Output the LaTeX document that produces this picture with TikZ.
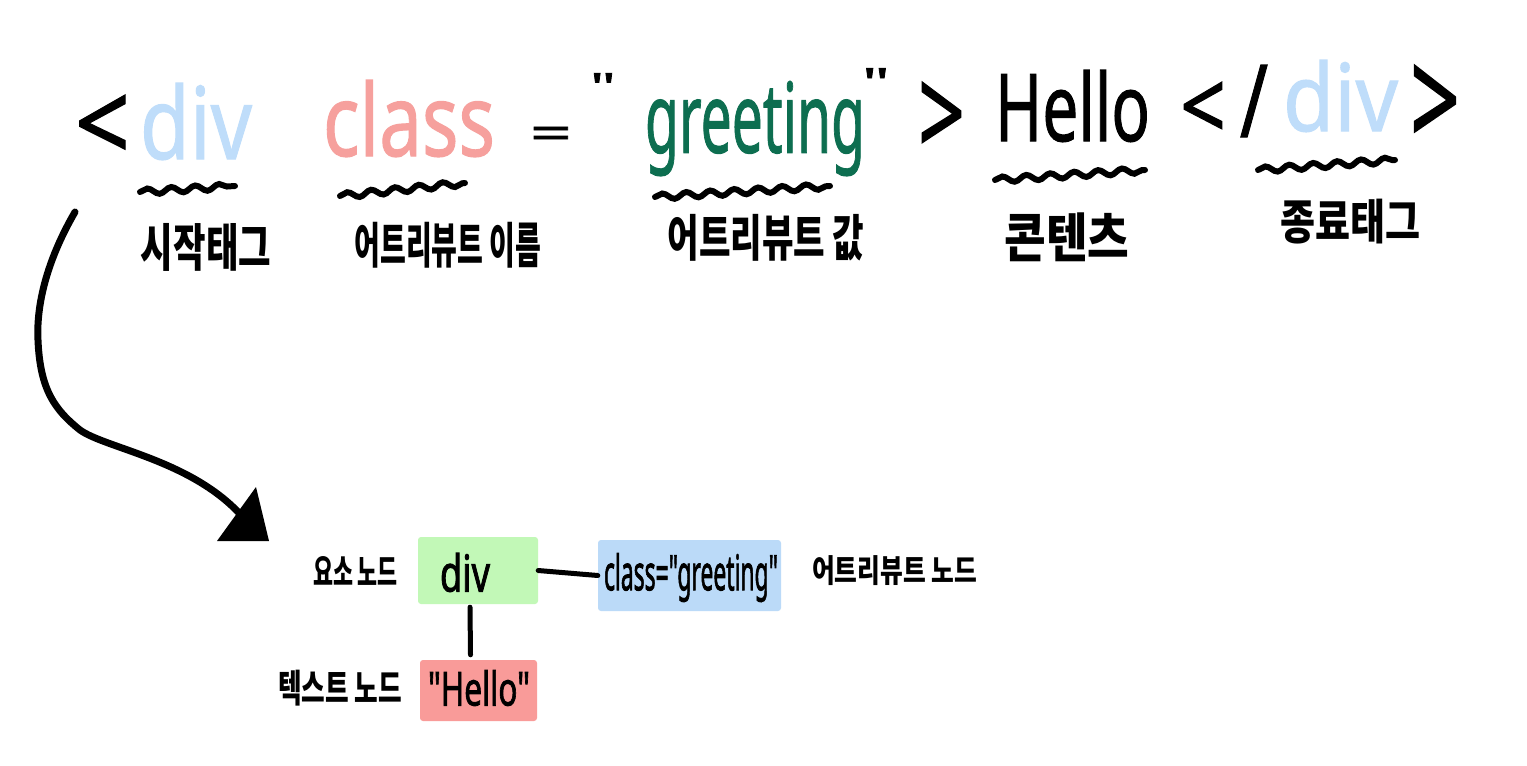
\documentclass[tikz,border=0pt]{standalone}
\usepackage{graphicx}
\usepackage{fontspec}
\setmainfont{Noto Sans}
\newfontfamily\codefont{Noto Sans}[FakeBold=2]
\newfontfamily\bigfont{Noto Sans}[FakeBold=1.2]
\newfontfamily\kr{Noto Sans CJK KR}
\usetikzlibrary{decorations.pathmorphing}
\newcommand{\fitbox}[3]{\resizebox*{#1pt}{#2pt}{#3}}
\definecolor{tagblue}{HTML}{BFDDFA}
\definecolor{attsalmon}{HTML}{F6A09D}
\definecolor{valgreen}{HTML}{0D6E50}
\definecolor{boxgreen}{HTML}{C2F8B7}
\definecolor{boxblue}{HTML}{BBDAF8}
\definecolor{boxred}{HTML}{F99B99}
\tikzset{
  big/.style={inner sep=0pt, font=\bigfont\fontsize{90}{90}\selectfont},
  lab/.style={inner sep=0pt, font=\kr\bfseries\fontsize{34}{34}\selectfont},
  slab/.style={inner sep=0pt, font=\kr\bfseries\fontsize{24}{24}\selectfont},
  btxt/.style={inner sep=0pt, font=\codefont\fontsize{36}{36}\selectfont},
  squig/.style={decorate, decoration={snake, segment length=24pt, amplitude=3pt}, line width=6pt, line cap=round},
  conn/.style={line width=5pt, line cap=round},
  arrline/.style={line width=7pt, line cap=round, line join=round},
  tbox/.style={inner sep=0pt, rounded corners=3pt}
}
\begin{document}
\begin{tikzpicture}[x=1pt,y=-1pt]
\useasboundingbox[fill=white] (0,0) rectangle (1527,766);
% top code line
\node[big] (lt1) at (102.5,128.5) {\fitbox{55}{67}{<}};
\node[big, text=tagblue] (div1) at (196,121.5) {\fitbox{112}{77}{div}};
\node[big, text=attsalmon] (cls) at (409,118.5) {\fitbox{172}{77}{class}};
\node[big] (eq) at (551,138) {\fitbox{42}{22}{=}};
\node[big] (q1) at (603,86.5) {\fitbox{26}{27}{"}};
\node[big, text=valgreen] (greet) at (755,128.5) {\fitbox{220}{95}{greeting}};
\node[big] (q2) at (876,82) {\fitbox{28}{28}{"}};
\node[big] (gt1) at (941.5,119.5) {\fitbox{47}{75}{>}};
\node[big] (hello) at (1072.5,106) {\fitbox{155}{72}{Hello}};
\node[big] (lt2) at (1203,111) {\fitbox{46}{58}{<}};
\node[big] (sl) at (1254,101) {\fitbox{28}{72}{/}};
\node[big, text=tagblue] (div2) at (1340.5,96) {\fitbox{115}{72}{div}};
\node[big] (gt2) at (1435,106.5) {\fitbox{50}{83}{>}};
% squiggles
\draw[squig] (140,192) -- (235,186);
\draw[squig] (340,196) -- (465,183);
\draw[squig] (655,197) -- (830,186);
\draw[squig] (995,180) -- (1145,170);
\draw[squig] (1258,170) -- (1395,160);
% labels
\node[lab] (l1) at (206,247) {\fitbox{130}{48}{시작태그}};
\node[lab] (l2) at (448,245) {\fitbox{187}{46}{어트리뷰트 이름}};
\node[lab] (l3) at (766,238) {\fitbox{197}{47}{어트리뷰트 값}};
\node[lab] (l4) at (1067,237) {\fitbox{125}{49}{콘텐츠}};
\node[lab] (l5) at (1350,222) {\fitbox{140}{45}{종료태그}};
% arrow
\coordinate (arrS) at (75,212);
\coordinate (arrE) at (240,514);
\draw[arrline] (arrS) .. controls (50,255) and (36,300) .. (38,340)
  .. controls (40,390) and (55,410) .. (80,430)
  .. controls (105,448) and (190,460) .. (arrE);
\fill (256,487) -- (269,541) -- (217,541) -- cycle;
% DOM tree
\node[tbox, fill=boxgreen, minimum width=120pt, minimum height=67pt] (divbox) at (478,570.5) {};
\node[tbox, fill=boxblue, minimum width=183pt, minimum height=71pt] (classbox) at (689.5,575.5) {};
\node[tbox, fill=boxred, minimum width=117pt, minimum height=61pt] (hellobox) at (478.5,690.5) {};
\node[btxt] (divtxt) at (465,572.5) {\fitbox{50}{39}{div}};
\node[btxt] (clstxt) at (691,577.5) {\fitbox{174}{49}{class="greeting"}};
\node[btxt] (hellotxt) at (479,688) {\fitbox{102}{36}{"Hello"}};
\draw[conn] (divbox.east) -- (classbox.west);
\draw[conn] ([xshift=-8pt,yshift=-3pt]divbox.south) -- ([xshift=-8pt,yshift=5pt]hellobox.north);
\node[slab] (el) at (355.5,571) {\fitbox{85}{29}{요소 노드}};
\node[slab] (al) at (894.5,570.5) {\fitbox{165}{30}{어트리뷰트 노드}};
\node[slab] (tl) at (340,688) {\fitbox{124}{36}{텍스트 노드}};
\end{tikzpicture}
\end{document}
